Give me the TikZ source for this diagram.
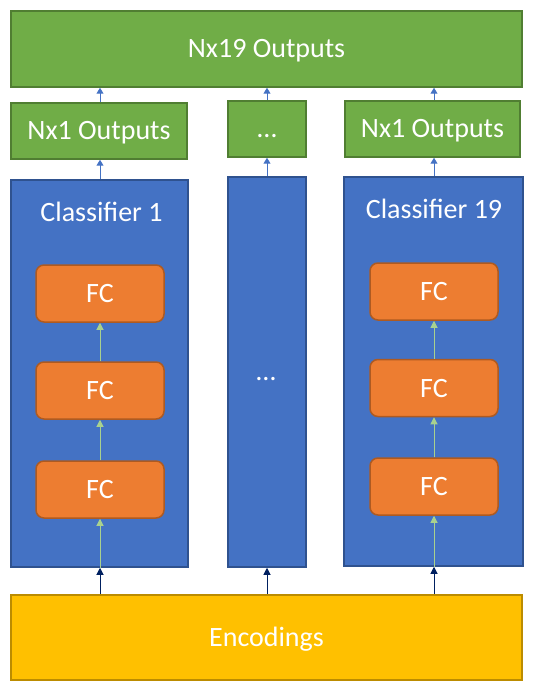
\documentclass[tikz,border=0pt]{standalone}
\usepackage{fontspec}
\setmainfont{Carlito}
\usetikzlibrary{arrows.meta}
\definecolor{outgreen}{HTML}{70AD47}
\definecolor{outgreenline}{HTML}{507E32}
\definecolor{clsblue}{HTML}{4472C4}
\definecolor{clsblueline}{HTML}{2F528F}
\definecolor{fcorange}{HTML}{ED7D31}
\definecolor{fcorangeline}{HTML}{AE5A21}
\definecolor{encyellow}{HTML}{FFC000}
\definecolor{encyellowline}{HTML}{BC8C00}
\definecolor{navyarrow}{HTML}{002060}
\definecolor{greenarrow}{HTML}{A9D18E}
\tikzset{
  boxtext/.style={text=white, font=\fontsize{28}{34}\selectfont, inner sep=0pt, text height=18pt, text depth=0pt},
  box/.style={boxtext, draw, line width=1.5pt},
  outbox/.style={box, fill=outgreen, draw=outgreenline},
  clsbox/.style={box, fill=clsblue, draw=clsblueline},
  fcbox/.style={box, fill=fcorange, draw=fcorangeline, rounded corners=8pt, minimum width=128pt, minimum height=57pt},
  encbox/.style={box, fill=encyellow, draw=encyellowline},
  bluearrow/.style={draw=clsblue, line width=1pt, -{Triangle[width=7pt,length=6pt]}},
  navyarrow/.style={draw=navyarrow, line width=1pt, -{Triangle[width=7pt,length=7pt]}},
  greenarrow/.style={draw=greenarrow, line width=1pt, -{Triangle[width=7pt,length=7pt]}}
}

\begin{document}
\begin{tikzpicture}[x=1pt,y=-1pt]
    \useasboundingbox (0,0) rectangle (533,692);
    %
    \node[outbox, minimum width=511pt, minimum height=76pt] (all) at (266.5,49) {Nx19 Outputs};
    \node[outbox, minimum width=176pt, minimum height=56pt] (out1) at (99,131) {Nx1 Outputs};
    \node[outbox, minimum width=78pt, minimum height=56pt] (outm) at (267,129) {…};
    \node[outbox, minimum width=175pt, minimum height=56pt] (out19) at (432.5,129) {Nx1 Outputs};
    %
    \node[clsbox, minimum width=177pt, minimum height=387pt] (cls1) at (99.5,373.5) {};
    \node[clsbox, minimum width=78pt, minimum height=390pt] (clsm) at (267,372) {};
    \node[clsbox, minimum width=179pt, minimum height=389pt] (cls19) at (433.5,371.5) {};
    \node[boxtext] (cls1text) at (101.5,212.5) {Classifier 1};
    \node[boxtext] (clsmtext) at (266,371) {…};
    \node[boxtext] (cls19text) at (434,210) {Classifier 19};
    %
    \node[fcbox] (fc11) at (100,293.5) {FC};
    \node[fcbox] (fc12) at (100,390.5) {FC};
    \node[fcbox] (fc13) at (100,489.5) {FC};
    \node[fcbox] (fc191) at (434,291.5) {FC};
    \node[fcbox] (fc192) at (434,388) {FC};
    \node[fcbox] (fc193) at (434,486.5) {FC};
    %
    \node[encbox, minimum width=511pt, minimum height=85pt] (enc) at (266.5,637.5) {Encodings};
    %
    \draw[navyarrow] (enc.north -| fc13.south) -- (fc13.south |- cls1.south);
    \draw[navyarrow] (enc.north -| clsm.south) -- (clsm.south);
    \draw[navyarrow] (enc.north -| fc193.south) -- (fc193.south |- cls19.south);
    %
    \draw[greenarrow] (fc13.south |- cls1.south) -- (fc13.south);
    \draw[greenarrow] (fc13.north) -- (fc12.south);
    \draw[greenarrow] (fc12.north) -- (fc11.south);
    \draw[greenarrow] (fc193.south |- cls19.south) -- (fc193.south);
    \draw[greenarrow] (fc193.north) -- (fc192.south);
    \draw[greenarrow] (fc192.north) -- (fc191.south);
    %
    \draw[bluearrow] (fc11.north |- cls1.north) -- (fc11.north |- out1.south);
    \draw[bluearrow] (clsm.north) -- (outm.south);
    \draw[bluearrow] (fc191.north |- cls19.north) -- (fc191.north |- out19.south);
    \draw[bluearrow] (fc11.north |- out1.north) -- (fc11.north |- all.south);
    \draw[bluearrow] (outm.north) -- (outm.north |- all.south);
    \draw[bluearrow] (fc191.north |- out19.north) -- (fc191.north |- all.south);
\end{tikzpicture}
\end{document}
